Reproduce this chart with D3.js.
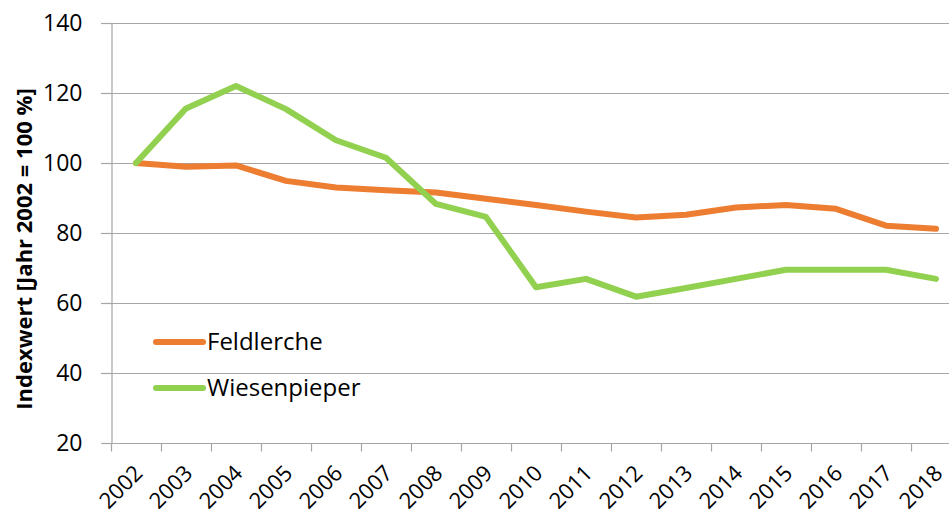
<!DOCTYPE html>
<html>
<head>
<meta charset="utf-8">
<script src="https://cdn.jsdelivr.net/npm/d3@7"></script>
<style>
  body { margin: 0; background: #fff; }
  text { font-family: "Open Sans", "Noto Sans", sans-serif; fill: #000; }
</style>
</head>
<body>
<script>
// data
var years = ["2002","2003","2004","2005","2006","2007","2008","2009","2010",
             "2011","2012","2013","2014","2015","2016","2017","2018"];
var feldlerche = [100, 98.9, 99.3, 94.9, 93, 92.2, 91.6, 89.8, 88, 86.1, 84.4, 85.2, 87.3, 88, 86.9, 82.1, 81.2];
var wiesenpieper = [100, 115.6, 122, 115.4, 106.5, 101.5, 88.3, 84.6, 64.5, 66.9, 61.8, 64.3, 66.9, 69.5, 69.5, 69.5, 66.9];
var yTicks = [20, 40, 60, 80, 100, 120, 140];
var seriesNames = ["Feldlerche", "Wiesenpieper"];
var seriesColors = ["#ed7d31", "#92d050"];

var W = 949, H = 513;
var margin = {top: 23, left: 111, bottom: 70};
var plotBottom = H - margin.bottom;

var svg = d3.select("body").append("svg")
    .attr("width", W)
    .attr("height", H);

var x = d3.scaleBand()
    .domain(years)
    .range([margin.left, margin.left + 17 * 50])
    .paddingInner(0).paddingOuter(0);

var y = d3.scaleLinear()
    .domain([20, 140])
    .range([plotBottom, margin.top]);

// horizontal gridlines
svg.append("g").selectAll("line")
  .data(yTicks.filter(function(d) { return d > 20; }))
  .enter().append("line")
    .attr("x1", margin.left - 10)
    .attr("x2", W)
    .attr("y1", function(d) { return Math.round(y(d)) + 0.5; })
    .attr("y2", function(d) { return Math.round(y(d)) + 0.5; })
    .attr("stroke", "#a6a6a6")
    .attr("stroke-width", 1.2);

// y axis
var yAxis = svg.append("g")
    .attr("transform", "translate(" + (margin.left + 0.5) + ",0)")
    .call(d3.axisLeft(y).tickValues(yTicks).tickSize(10).tickPadding(19));
yAxis.select(".domain").attr("stroke", "#a6a6a6").attr("stroke-width", 1.2);
yAxis.selectAll(".tick line").attr("stroke", "#a6a6a6").attr("stroke-width", 1.2);
yAxis.selectAll(".tick text")
    .style("font-size", "23px")
    .style("font-family", "'Open Sans', sans-serif")
    .attr("fill", "#000");

// x axis: Excel style, ticks between categories
var xAxis = svg.append("g")
    .attr("transform", "translate(0," + (Math.round(plotBottom) + 0.5) + ")")
    .call(d3.axisBottom(x).tickSize(0).tickPadding(0));
xAxis.select(".domain").remove();
xAxis.append("line")
    .attr("x1", margin.left).attr("x2", W)
    .attr("stroke", "#a6a6a6").attr("stroke-width", 1.2);
xAxis.selectAll(".bnd")
  .data(years)
  .enter().append("line")
    .attr("class", "bnd")
    .attr("x1", function(d) { return Math.round(x(d)) + 0.5; })
    .attr("x2", function(d) { return Math.round(x(d)) + 0.5; })
    .attr("y1", 0).attr("y2", 8)
    .attr("stroke", "#a6a6a6").attr("stroke-width", 1.2);
xAxis.selectAll(".tick text")
    .attr("text-anchor", "end")
    .attr("dy", 0)
    .attr("transform", "translate(8,31) rotate(-45)")
    .style("font-size", "22px")
    .style("font-family", "'Open Sans', sans-serif")
    .attr("fill", "#000");

// y axis title
svg.append("text")
    .attr("transform", "translate(32," + ((margin.top + plotBottom) / 2 + 16) + ") rotate(-90)")
    .attr("text-anchor", "middle")
    .style("font-size", "22px")
    .style("font-weight", "bold")
    .text("Indexwert [Jahr 2002 = 100 %]");

// lines
var line = d3.line()
    .x(function(d, i) { return x(years[i]) + x.bandwidth() / 2; })
    .y(function(d) { return y(d); });

[feldlerche, wiesenpieper].forEach(function(s, k) {
  svg.append("path")
    .datum(s)
    .attr("fill", "none")
    .attr("stroke", seriesColors[k])
    .attr("stroke-width", 6)
    .attr("stroke-linejoin", "round")
    .attr("stroke-linecap", "round")
    .attr("d", line);
});

// legend
var legend = svg.append("g").selectAll("g")
  .data(seriesNames)
  .enter().append("g")
    .attr("transform", function(d, i) { return "translate(156," + (342 + i * 46) + ")"; });
legend.append("line")
    .attr("x1", 0).attr("x2", 47)
    .attr("stroke", function(d, i) { return seriesColors[i]; })
    .attr("stroke-width", 6)
    .attr("stroke-linecap", "round");
legend.append("text")
    .attr("x", 51)
    .attr("y", 8)
    .style("font-size", "24px")
    .text(function(d) { return d; });
</script>
</body>
</html>
